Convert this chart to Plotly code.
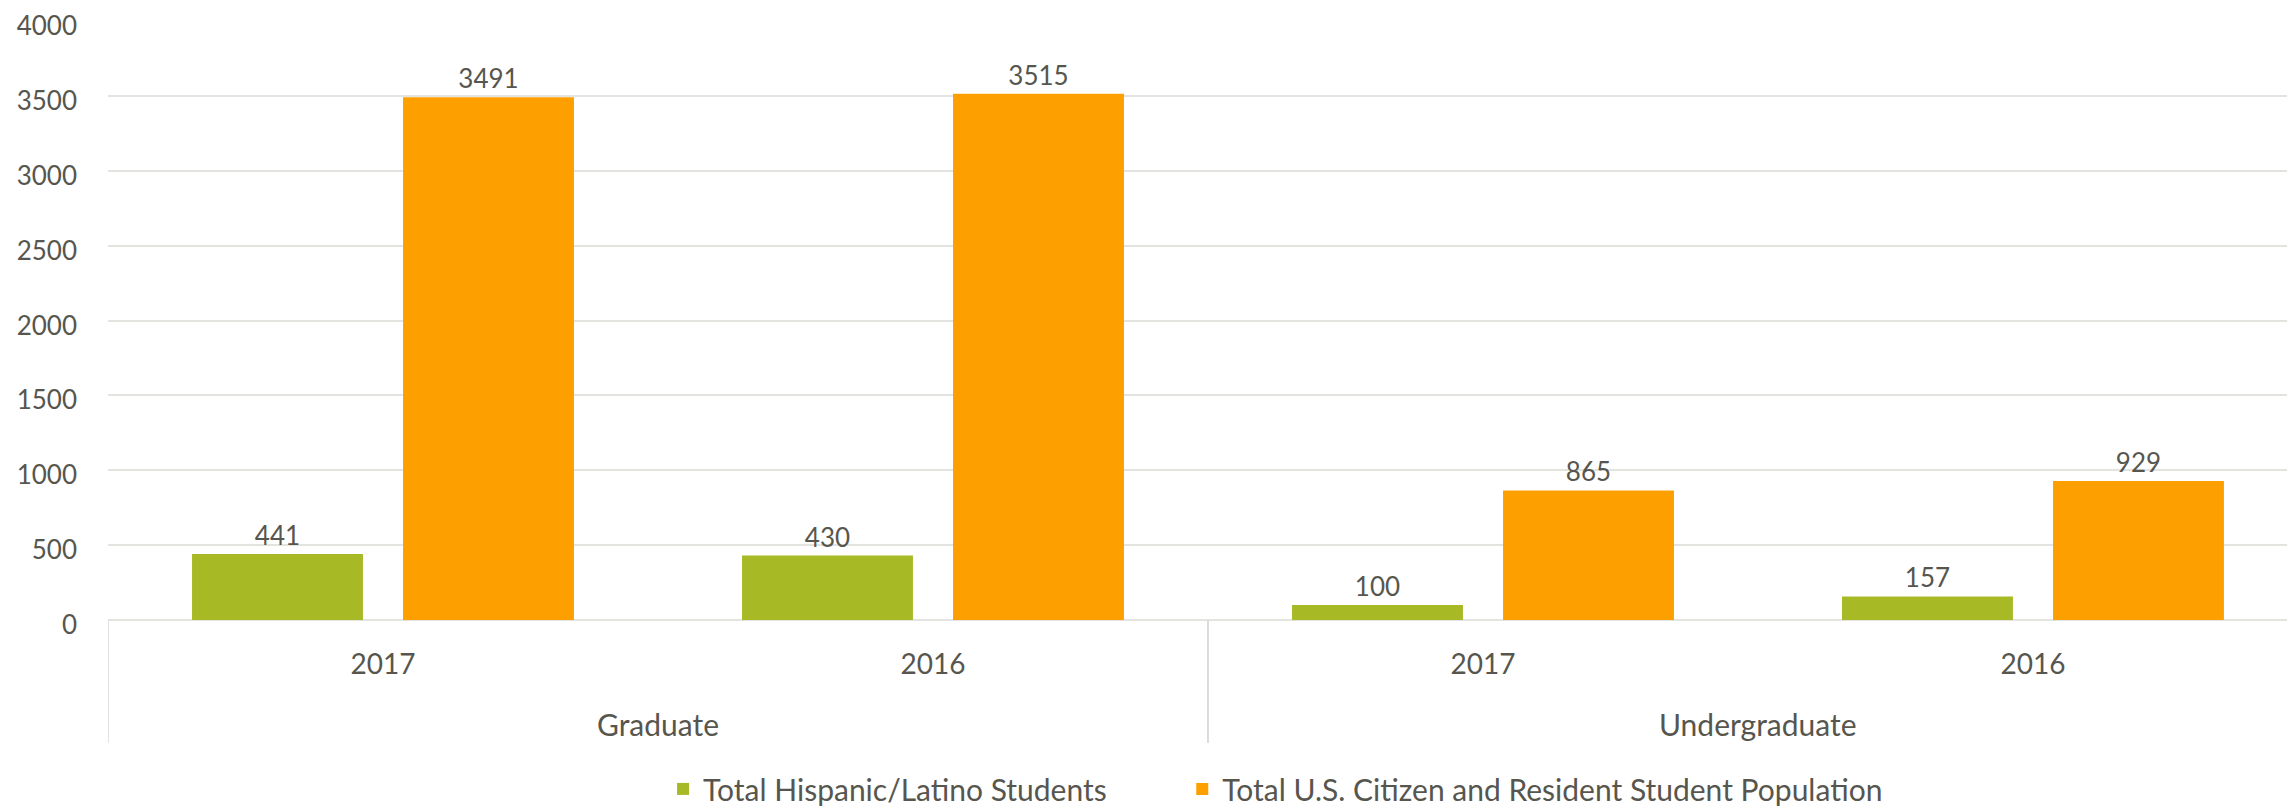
import plotly.graph_objects as go

levels = ["Graduate", "Graduate", "Undergraduate", "Undergraduate"]
years = ["2017", "2016", "2017", "2016"]
hispanic = [441, 430, 100, 157]
total_pop = [3491, 3515, 865, 929]
series_names = ["Total Hispanic/Latino Students", "Total U.S. Citizen and Resident Student Population"]

GREEN = "#A7B925"
ORANGE = "#FE9F00"
TEXT = "#57564E"
GRID = "#E3E3DF"
DIV = "#D9D9D9"
FONT = "Lato"

idx = list(range(len(years)))

fig = go.Figure()
for name, vals, col, leg in [(series_names[0], hispanic, GREEN, "legend"),
                             (series_names[1], total_pop, ORANGE, "legend2")]:
    fig.add_trace(go.Bar(
        x=idx, y=vals, name=name, legend=leg,
        marker=dict(color=col, line=dict(width=0)),
        texttemplate="%{y}", textposition="outside", cliponaxis=False,
        textfont=dict(family=FONT, size=26, color=TEXT),
    ))

# group labels and dividers of the two-level category axis
groups = []
for i, g in enumerate(levels):
    if not groups or groups[-1][0] != g:
        groups.append([g, i, i])
    else:
        groups[-1][2] = i
for g, a, b in groups:
    fig.add_annotation(x=(a + b) / 2, y=-0.174, xref="x", yref="paper", text=g,
                       showarrow=False, yanchor="middle",
                       font=dict(family=FONT, size=30, color=TEXT))
    for edge in (a - 0.5, b + 0.5):
        fig.add_shape(type="line", xref="x", yref="paper", x0=edge, x1=edge, y0=0, y1=-0.205,
                      line=dict(color=DIV, width=1.5))

legend_common = dict(orientation="h", y=-0.282, yanchor="middle", xanchor="left",
                     font=dict(family=FONT, size=30, color=TEXT), itemwidth=30,
                     bgcolor="rgba(0,0,0,0)")
fig.update_layout(
    width=2287, height=801,
    margin=dict(l=100, r=0, t=13, b=189, autoexpand=False),
    paper_bgcolor="white", plot_bgcolor="white",
    barmode="group", bargap=0.2327, bargroupgap=0.19,
    font=dict(family=FONT, size=26, color=TEXT),
    showlegend=True,
    legend=dict(x=0.2538, **legend_common),
    legend2=dict(x=0.4912, **legend_common),
)
fig.update_yaxes(range=[0, 4000], dtick=500, showgrid=True, gridcolor=GRID, gridwidth=1.5,
                 zeroline=True, zerolinecolor=GRID, zerolinewidth=1.5, automargin=False,
                 tickfont=dict(family=FONT, size=26, color=TEXT), ticks="", ticklabelstandoff=30,
                 ticklabelshift=5, ticklabeloverflow="allow", showline=False)
fig.update_xaxes(range=[-0.5, 3.4764], tickvals=idx, ticktext=years,
                 showgrid=False, showline=False, zeroline=False, automargin=False,
                 tickfont=dict(family=FONT, size=28, color=TEXT),
                 ticks="", ticklabelstandoff=25)

fig.write_html("out.html")
